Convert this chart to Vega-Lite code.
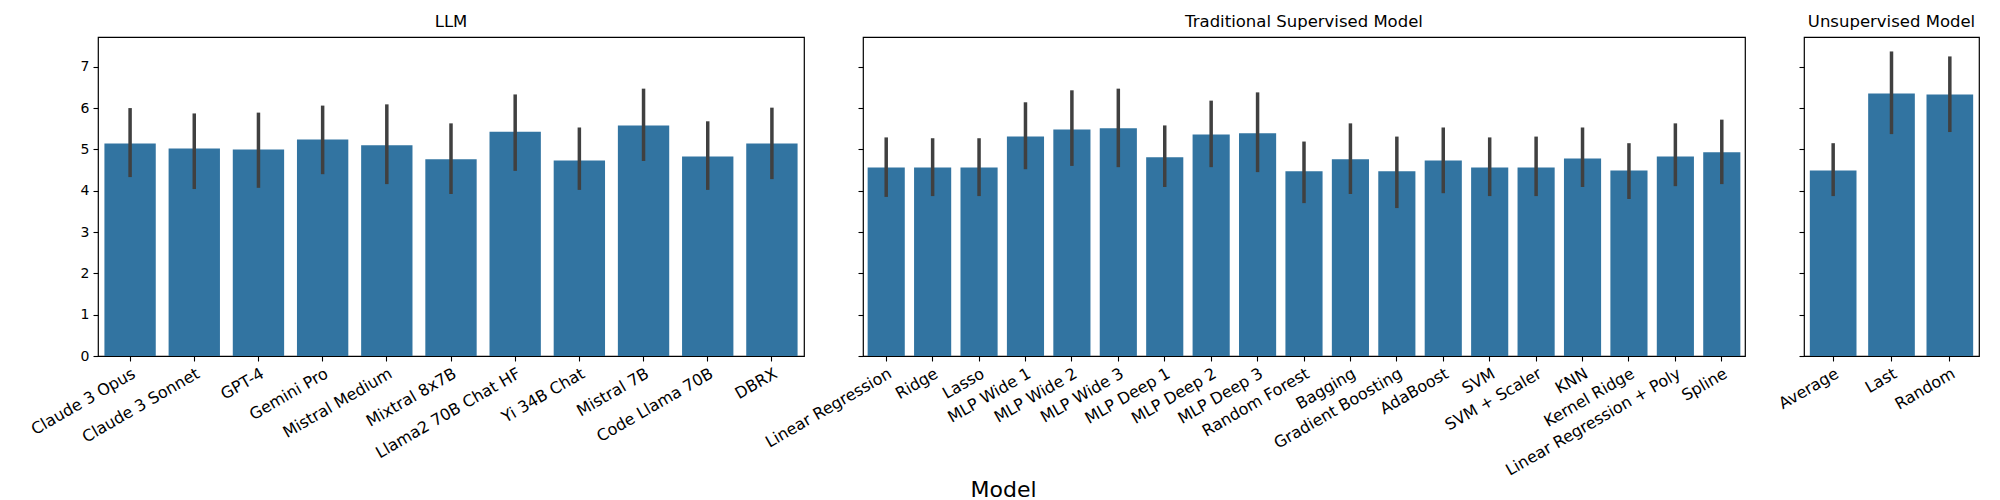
{
  "$schema": "https://vega.github.io/schema/vega-lite/v6.json",
  "background": "white",
  "padding": {"left": 27, "top": 12, "right": 5, "bottom": 0},
  "bounds": "flush",
  "spacing": 59,
  "title": {
    "text": "Model",
    "orient": "bottom",
    "anchor": "middle",
    "fontSize": 22,
    "fontWeight": "normal",
    "font": "DejaVu Sans",
    "color": "black",
    "offset": 1
  },
  "config": {
    "font": "DejaVu Sans",
    "view": {"stroke": "black", "strokeWidth": 1.2},
    "title": {"fontSize": 16.5, "fontWeight": "normal", "color": "black", "offset": 7},
    "axis": {
      "grid": false,
      "domain": false,
      "tickColor": "black",
      "tickSize": 5,
      "tickWidth": 1.1,
      "labelColor": "black",
      "labelFont": "DejaVu Sans"
    }
  },
  "datasets": {
    "scores": [
      {"group": "LLM", "model": "Claude 3 Opus", "mean": 5.14, "lo": 4.33, "hi": 6.0},
      {"group": "LLM", "model": "Claude 3 Sonnet", "mean": 5.02, "lo": 4.04, "hi": 5.87},
      {"group": "LLM", "model": "GPT-4", "mean": 5.0, "lo": 4.07, "hi": 5.89},
      {"group": "LLM", "model": "Gemini Pro", "mean": 5.24, "lo": 4.4, "hi": 6.06},
      {"group": "LLM", "model": "Mistral Medium", "mean": 5.1, "lo": 4.16, "hi": 6.09},
      {"group": "LLM", "model": "Mixtral 8x7B", "mean": 4.76, "lo": 3.92, "hi": 5.63},
      {"group": "LLM", "model": "Llama2 70B Chat HF", "mean": 5.43, "lo": 4.48, "hi": 6.33},
      {"group": "LLM", "model": "Yi 34B Chat", "mean": 4.73, "lo": 4.02, "hi": 5.53},
      {"group": "LLM", "model": "Mistral 7B", "mean": 5.58, "lo": 4.72, "hi": 6.47},
      {"group": "LLM", "model": "Code Llama 70B", "mean": 4.83, "lo": 4.02, "hi": 5.68},
      {"group": "LLM", "model": "DBRX", "mean": 5.14, "lo": 4.28, "hi": 6.01},
      {"group": "Traditional Supervised Model", "model": "Linear Regression", "mean": 4.56, "lo": 3.85, "hi": 5.29},
      {"group": "Traditional Supervised Model", "model": "Ridge", "mean": 4.56, "lo": 3.87, "hi": 5.27},
      {"group": "Traditional Supervised Model", "model": "Lasso", "mean": 4.56, "lo": 3.87, "hi": 5.27},
      {"group": "Traditional Supervised Model", "model": "MLP Wide 1", "mean": 5.31, "lo": 4.52, "hi": 6.14},
      {"group": "Traditional Supervised Model", "model": "MLP Wide 2", "mean": 5.48, "lo": 4.6, "hi": 6.43},
      {"group": "Traditional Supervised Model", "model": "MLP Wide 3", "mean": 5.51, "lo": 4.57, "hi": 6.47},
      {"group": "Traditional Supervised Model", "model": "MLP Deep 1", "mean": 4.81, "lo": 4.09, "hi": 5.58},
      {"group": "Traditional Supervised Model", "model": "MLP Deep 2", "mean": 5.36, "lo": 4.57, "hi": 6.18},
      {"group": "Traditional Supervised Model", "model": "MLP Deep 3", "mean": 5.39, "lo": 4.45, "hi": 6.38},
      {"group": "Traditional Supervised Model", "model": "Random Forest", "mean": 4.47, "lo": 3.7, "hi": 5.19},
      {"group": "Traditional Supervised Model", "model": "Bagging", "mean": 4.76, "lo": 3.92, "hi": 5.63},
      {"group": "Traditional Supervised Model", "model": "Gradient Boosting", "mean": 4.47, "lo": 3.58, "hi": 5.31},
      {"group": "Traditional Supervised Model", "model": "AdaBoost", "mean": 4.73, "lo": 3.94, "hi": 5.53},
      {"group": "Traditional Supervised Model", "model": "SVM", "mean": 4.56, "lo": 3.87, "hi": 5.29},
      {"group": "Traditional Supervised Model", "model": "SVM + Scaler", "mean": 4.56, "lo": 3.87, "hi": 5.31},
      {"group": "Traditional Supervised Model", "model": "KNN", "mean": 4.78, "lo": 4.09, "hi": 5.53},
      {"group": "Traditional Supervised Model", "model": "Kernel Ridge", "mean": 4.49, "lo": 3.8, "hi": 5.15},
      {"group": "Traditional Supervised Model", "model": "Linear Regression + Poly", "mean": 4.83, "lo": 4.11, "hi": 5.63},
      {"group": "Traditional Supervised Model", "model": "Spline", "mean": 4.93, "lo": 4.16, "hi": 5.72},
      {"group": "Unsupervised Model", "model": "Average", "mean": 4.49, "lo": 3.87, "hi": 5.15},
      {"group": "Unsupervised Model", "model": "Last", "mean": 6.35, "lo": 5.37, "hi": 7.37},
      {"group": "Unsupervised Model", "model": "Random", "mean": 6.33, "lo": 5.42, "hi": 7.25}
    ]
  },
  "hconcat": [
    {
      "title": "LLM",
      "width": 706,
      "height": 319,
      "data": {"name": "scores"},
      "transform": [{"filter": "datum.group === 'LLM'"}],
      "encoding": {
        "x": {
          "field": "model", "type": "nominal", "sort": null, "title": null,
          "scale": {"paddingInner": 0.2, "paddingOuter": 0.1},
          "axis": {"labelAngle": -30, "labelAlign": "right", "labelBaseline": "top", "labelFontSize": 16, "labelPadding": 4, "labelLimit": 400}
        }
      },
      "layer": [
        {
          "mark": {"type": "bar", "color": "#3274a1"},
          "encoding": {
            "y": {
              "field": "mean", "type": "quantitative", "title": null,
              "scale": {"domain": [0, 7.72], "nice": false},
              "axis": {"values": [0, 1, 2, 3, 4, 5, 6, 7], "labelFontSize": 14, "labelPadding": 4}
            }
          }
        },
        {
          "mark": {"type": "rule", "color": "#404040", "strokeWidth": 3.5},
          "encoding": {
            "y": {"field": "lo", "type": "quantitative"},
            "y2": {"field": "hi"}
          }
        }
      ]
    },
    {
      "title": "Traditional Supervised Model",
      "width": 882,
      "height": 319,
      "data": {"name": "scores"},
      "transform": [{"filter": "datum.group === 'Traditional Supervised Model'"}],
      "encoding": {
        "x": {
          "field": "model", "type": "nominal", "sort": null, "title": null,
          "scale": {"paddingInner": 0.2, "paddingOuter": 0.1},
          "axis": {"labelAngle": -30, "labelAlign": "right", "labelBaseline": "top", "labelFontSize": 16, "labelPadding": 4, "labelLimit": 400}
        }
      },
      "layer": [
        {
          "mark": {"type": "bar", "color": "#3274a1"},
          "encoding": {
            "y": {
              "field": "mean", "type": "quantitative", "title": null,
              "scale": {"domain": [0, 7.72], "nice": false},
              "axis": {"values": [0, 1, 2, 3, 4, 5, 6, 7], "labels": false}
            }
          }
        },
        {
          "mark": {"type": "rule", "color": "#404040", "strokeWidth": 3.5},
          "encoding": {
            "y": {"field": "lo", "type": "quantitative"},
            "y2": {"field": "hi"}
          }
        }
      ]
    },
    {
      "title": "Unsupervised Model",
      "width": 175,
      "height": 319,
      "data": {"name": "scores"},
      "transform": [{"filter": "datum.group === 'Unsupervised Model'"}],
      "encoding": {
        "x": {
          "field": "model", "type": "nominal", "sort": null, "title": null,
          "scale": {"paddingInner": 0.2, "paddingOuter": 0.1},
          "axis": {"labelAngle": -30, "labelAlign": "right", "labelBaseline": "top", "labelFontSize": 16, "labelPadding": 4, "labelLimit": 400}
        }
      },
      "layer": [
        {
          "mark": {"type": "bar", "color": "#3274a1"},
          "encoding": {
            "y": {
              "field": "mean", "type": "quantitative", "title": null,
              "scale": {"domain": [0, 7.72], "nice": false},
              "axis": {"values": [0, 1, 2, 3, 4, 5, 6, 7], "labels": false}
            }
          }
        },
        {
          "mark": {"type": "rule", "color": "#404040", "strokeWidth": 3.5},
          "encoding": {
            "y": {"field": "lo", "type": "quantitative"},
            "y2": {"field": "hi"}
          }
        }
      ]
    }
  ]
}
